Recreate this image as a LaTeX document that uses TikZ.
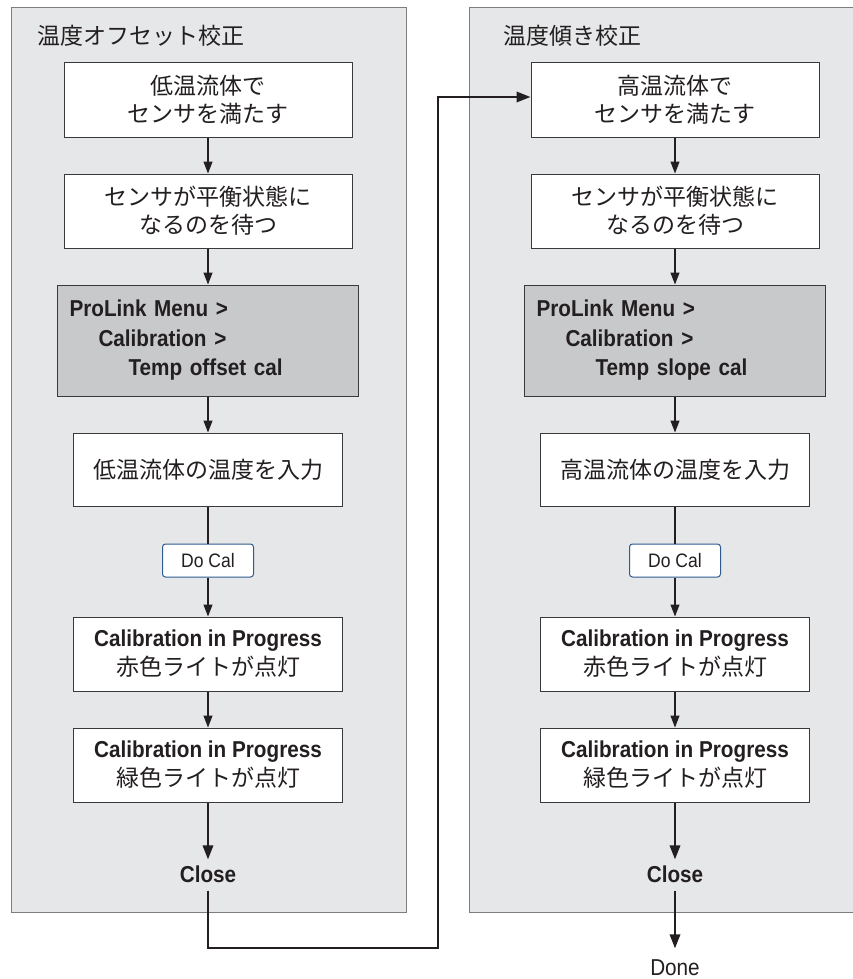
\documentclass[tikz,border=0pt]{standalone}
\usepackage{fontspec}
\newfontfamily\jp{Noto Sans CJK JP}
\newfontfamily\cond[FakeStretch=0.9]{Liberation Sans}
\usetikzlibrary{arrows.meta}
\definecolor{panelfill}{HTML}{E6E7E8}
\definecolor{panelline}{HTML}{7D7D7D}
\definecolor{boxline}{HTML}{3A3A3A}
\definecolor{grayfill}{HTML}{C8C9CB}
\definecolor{docalblue}{HTML}{2F5A8E}
\definecolor{ink}{HTML}{231F20}
\begin{document}
\begin{tikzpicture}[x=1pt,y=-1pt,
  panel/.style={draw=panelline, fill=panelfill, line width=1.3pt, anchor=north west, inner sep=0pt},
  title/.style={anchor=west, inner sep=0pt, text=ink, font=\jp\fontsize{23}{28}\selectfont},
  box/.style={draw=boxline, fill=white, line width=1pt, align=center, inner sep=0pt, text=ink,
    font=\jp\fontsize{23}{28}\selectfont},
  bigbox/.style={box, minimum width=288pt, minimum height=74pt},
  smallbox/.style={box, minimum width=269pt, minimum height=74pt},
  calbox/.style={smallbox, font=\jp\fontsize{23}{29}\selectfont},
  graybox/.style={box, fill=grayfill, align=left, inner xsep=12pt, text width=277pt,
    minimum height=111pt, font=\cond\bfseries\fontsize{23}{29.5}\selectfont},
  docal/.style={draw=docalblue, fill=white, rounded corners=3pt, line width=1pt,
    minimum width=91pt, minimum height=33pt, inner sep=0pt, text=ink,
    font=\cond\fontsize{19.5}{21}\selectfont},
  closetxt/.style={anchor=base, inner xsep=2pt, inner ysep=6pt, text height=17pt, text depth=2pt,
    text=ink, font=\cond\bfseries\fontsize{23}{26}\selectfont},
  donetxt/.style={anchor=base, inner xsep=2pt, inner ysep=10pt, text height=17pt, text depth=2pt,
    text=ink, font=\cond\fontsize{23}{26}\selectfont},
  arr/.style={draw=ink, line width=1.1pt, -{Triangle[length=12pt,width=9pt]}},
  plain/.style={draw=ink, line width=1.1pt},
  thickarr/.style={draw=ink, line width=2pt, -{Triangle[length=14pt,width=10.5pt]}},
  thickline/.style={draw=ink, line width=2pt}
]
\clip (0,0) rectangle (853,979);
\fill[white] (0,0) rectangle (853,979);

% panels
\node[panel, minimum width=395.5pt, minimum height=905pt] (panelL) at (10.5,7) {};
\node[panel, minimum width=400pt, minimum height=905pt] (panelR) at (469,7) {};
\node[title] (titleL) at (37,36) {温度オフセット校正};
\node[title] (titleR) at (503,36) {温度傾き校正};

% left column
\node[bigbox] (l1) at (208,100) {低温流体で\\センサを満たす};
\node[bigbox] (l2) at (208,211) {センサが平衡状態に\\なるのを待つ};
\node[graybox] (l3) at (208,340.5) {ProLink Menu >\\\hspace*{29pt}Calibration >\\\hspace*{59pt}Temp offset cal};
\node[smallbox, minimum height=73pt] (l4) at (208,469.5) {低温流体の温度を入力};
\node[docal] (l5) at (208,560.5) {Do Cal};
\node[calbox] (l6) at (208,654) {{\cond\bfseries Calibration in Progress}\\赤色ライトが点灯};
\node[calbox] (l7) at (208,765) {{\cond\bfseries Calibration in Progress}\\緑色ライトが点灯};
\node[closetxt] (l8) at (208,882.5) {Close};

% right column
\node[bigbox] (r1) at (675,100) {高温流体で\\センサを満たす};
\node[bigbox] (r2) at (675,211) {センサが平衡状態に\\なるのを待つ};
\node[graybox] (r3) at (675,340.5) {ProLink Menu >\\\hspace*{29pt}Calibration >\\\hspace*{59pt}Temp slope cal};
\node[smallbox, minimum height=73pt] (r4) at (675,469.5) {高温流体の温度を入力};
\node[docal] (r5) at (675,560.5) {Do Cal};
\node[calbox] (r6) at (675,654) {{\cond\bfseries Calibration in Progress}\\赤色ライトが点灯};
\node[calbox] (r7) at (675,765) {{\cond\bfseries Calibration in Progress}\\緑色ライトが点灯};
\node[closetxt] (r8) at (675,882.5) {Close};
\node[donetxt] (done) at (675,975.5) {Done};

% left connectors
\draw[arr] (l1) -- (l2);
\draw[arr] (l2) -- (l3);
\draw[arr] (l3) -- (l4);
\draw[plain] (l4) -- (l5);
\draw[arr] (l5) -- (l6);
\draw[arr] (l6) -- (l7);
\draw[thickarr] (l7) -- (l8);

% right connectors
\draw[arr] (r1) -- (r2);
\draw[arr] (r2) -- (r3);
\draw[arr] (r3) -- (r4);
\draw[plain] (r4) -- (r5);
\draw[arr] (r5) -- (r6);
\draw[arr] (r6) -- (r7);
\draw[thickarr] (r7) -- (r8);
\draw[thickarr] (r8) -- (done);

% cross-over connector
\coordinate (turn) at (438,948);
\draw[thickarr] (l8.south) |- (turn) |- ([yshift=3pt]r1.west);
\end{tikzpicture}
\end{document}
